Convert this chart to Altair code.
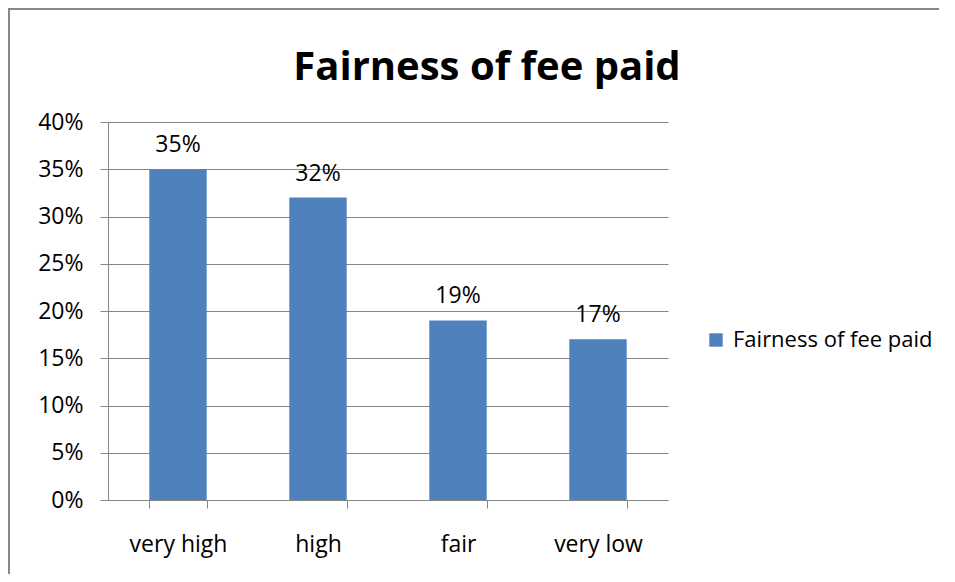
import altair as alt
import pandas as pd

categories = ["very high", "high", "fair", "very low"]
values = [0.35, 0.32, 0.19, 0.17]
series_name = "Fairness of fee paid"
y_ticks = [0, 0.05, 0.10, 0.15, 0.20, 0.25, 0.30, 0.35, 0.40]

df = pd.DataFrame({"category": categories, "value": values, "series": [series_name] * len(categories)})

FONT = "Open Sans"
GRID = "#868686"
FS = 23

x_enc = alt.X(
    "category:N",
    sort=categories,
    scale=alt.Scale(paddingInner=0.59, paddingOuter=0.295),
    axis=alt.Axis(
        title=None, labelAngle=0, tickBand="extent", tickSize=8, tickColor=GRID,
        domainColor=GRID, labelFont=FONT, labelFontSize=FS, labelColor="#000000",
        labelPadding=25, grid=False,
    ),
)
y_enc = alt.Y(
    "value:Q",
    scale=alt.Scale(domain=[0, 0.4], nice=False),
    axis=alt.Axis(
        title=None, values=y_ticks, format=".0%", tickSize=8, tickColor=GRID,
        domainColor=GRID, gridColor=GRID, labelFont=FONT, labelFontSize=FS,
        labelColor="#000000", labelPadding=17,
    ),
)

bars = alt.Chart(df).mark_bar(color="#4F81BD").encode(
    x=x_enc,
    y=y_enc,
    color=alt.Color(
        "series:N",
        scale=alt.Scale(range=["#4F81BD"]),
        legend=alt.Legend(
            title=None, orient="none", legendX=597, legendY=207, symbolType="square",
            symbolSize=180, symbolStrokeWidth=0, labelFont=FONT, labelFontSize=22,
            labelColor="#000000", labelLimit=400, labelOffset=6,
        ),
    ),
)

labels = alt.Chart(df).mark_text(
    font=FONT, fontSize=FS, color="#000000", baseline="alphabetic", dy=-17
).encode(
    x=alt.X("category:N", sort=categories),
    y="value:Q",
    text=alt.Text("value:Q", format=".0%"),
)

frame = alt.Chart(df).mark_rect(fill=None, stroke="#888888", strokeWidth=2).encode(
    x=alt.value(-99), x2=alt.value(838), y=alt.value(-113), y2=alt.value(500)
)

chart = alt.layer(frame, bars, labels).properties(
    width=560,
    height=378,
    autosize=alt.AutoSizeParams(type="none"),
    padding={"left": 100, "top": 114, "right": 271, "bottom": 74},
    title=alt.TitleParams(
        series_name, font=FONT, fontSize=40, fontWeight="bold", color="#000000",
        anchor="middle", dx=99, offset=0, dy=80,
    ),
).configure_view(stroke=None)

chart.save("out.html", embed_options={"renderer": "svg", "actions": False})
